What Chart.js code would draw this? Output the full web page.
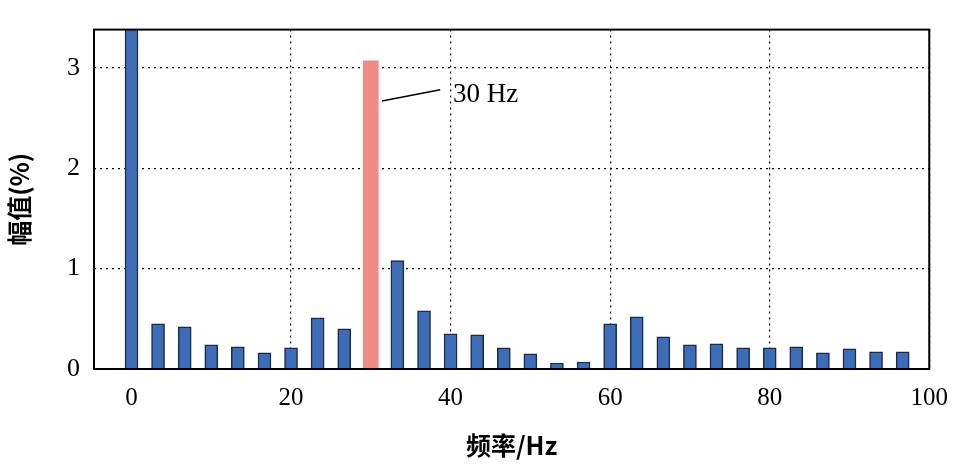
<!DOCTYPE html>
<html>
<head>
<meta charset="utf-8">
<script src="https://cdn.jsdelivr.net/npm/chart.js@4"></script>
<style>
  body { margin: 0; background: #fff; }
  #wrap { width: 962px; height: 464px; }
</style>
</head>
<body>
<div id="wrap"><canvas id="graph-spectrum"></canvas></div>
<script>
const freqs = [0, 3.33, 6.67, 10, 13.33, 16.67, 20, 23.33, 26.67, 33.33, 36.67, 40, 43.33, 46.67, 50,
  53.33, 56.67, 60, 63.33, 66.67, 70, 73.33, 76.67, 80, 83.33, 86.67, 90, 93.33, 96.67];
const amps = [3.5, 0.45, 0.42, 0.24, 0.22, 0.16, 0.21, 0.51, 0.40, 1.08, 0.58, 0.35, 0.34, 0.21, 0.15,
  0.06, 0.07, 0.45, 0.52, 0.32, 0.24, 0.25, 0.21, 0.21, 0.22, 0.16, 0.20, 0.17, 0.17];
const mainFreq = [30];
const mainAmp = [3.07];
const xTicks = [0, 20, 40, 60, 80, 100];
const yTicks = [0, 1, 2, 3];

const serif = "'Liberation Serif', 'Times New Roman', serif";

const annotate = {
  id: "annotate",
  afterDraw(chart) {
    const { ctx, chartArea: a, scales: { x, y } } = chart;
    ctx.save();
    ctx.strokeStyle = "#000";
    ctx.lineWidth = 2;
    ctx.strokeRect(a.left, a.top, a.right - a.left, a.bottom - a.top);
    ctx.lineWidth = 1.5;
    ctx.beginPath();
    ctx.moveTo(x.getPixelForValue(31.4), y.getPixelForValue(2.67));
    ctx.lineTo(x.getPixelForValue(38.7), y.getPixelForValue(2.78));
    ctx.stroke();
    ctx.fillStyle = "#000";
    ctx.font = "27px " + serif;
    ctx.textBaseline = "middle";
    ctx.fillText("30 Hz", x.getPixelForValue(40.3), y.getPixelForValue(2.73));
    ctx.restore();
  },
};

new Chart(document.getElementById("graph-spectrum"), {
  type: "bar",
  data: {
    datasets: [
      {
        data: freqs.map((f, i) => ({ x: f, y: amps[i] })),
        backgroundColor: "#3d6cb9",
        borderColor: "#1a2a48",
        borderWidth: 1.5,
        barThickness: 13,
      },
      {
        data: mainFreq.map((f, i) => ({ x: f, y: mainAmp[i] })),
        backgroundColor: "#f08c84",
        borderWidth: 0,
        barThickness: 15,
      },
    ],
  },
  options: {
    responsive: true,
    maintainAspectRatio: false,
    animation: false,
    layout: { padding: { top: -26, right: 24 } },
    plugins: { legend: { display: false }, tooltip: { enabled: false } },
    scales: {
      x: {
        type: "linear",
        min: -4.7,
        max: 100,
        offset: false,
        stacked: true,
        afterBuildTicks: (s) => { s.ticks = xTicks.map((v) => ({ value: v })); },
        afterFit: (s) => { s.height = 95; },
        grid: { color: "#000", lineWidth: 1.2, drawTicks: false, tickLength: 0, offset: false },
        border: { display: false, dash: [2, 4] },
        ticks: { color: "#000", font: { family: serif, size: 25 }, padding: 14 },
        title: {
          display: true,
          text: "频率/Hz",
          color: "#000",
          font: { family: "'Noto Sans CJK SC'", size: 25, weight: "bold" },
          padding: { top: 2 },
        },
      },
      y: {
        min: 0,
        max: 3.38,
        afterBuildTicks: (s) => { s.ticks = yTicks.map((v) => ({ value: v })); },
        afterFit: (s) => { s.width = 94; },
        grid: { color: "#000", lineWidth: 1.2, drawTicks: false, tickLength: 0 },
        border: { display: false, dash: [2, 4] },
        ticks: { color: "#000", font: { family: serif, size: 26 }, padding: 14 },
        title: {
          display: true,
          text: "幅值(%)",
          color: "#000",
          font: { family: "'Noto Sans CJK SC'", size: 25, weight: "bold" },
          padding: { bottom: 8 },
        },
      },
    },
  },
  plugins: [annotate],
});
</script>
</body>
</html>
